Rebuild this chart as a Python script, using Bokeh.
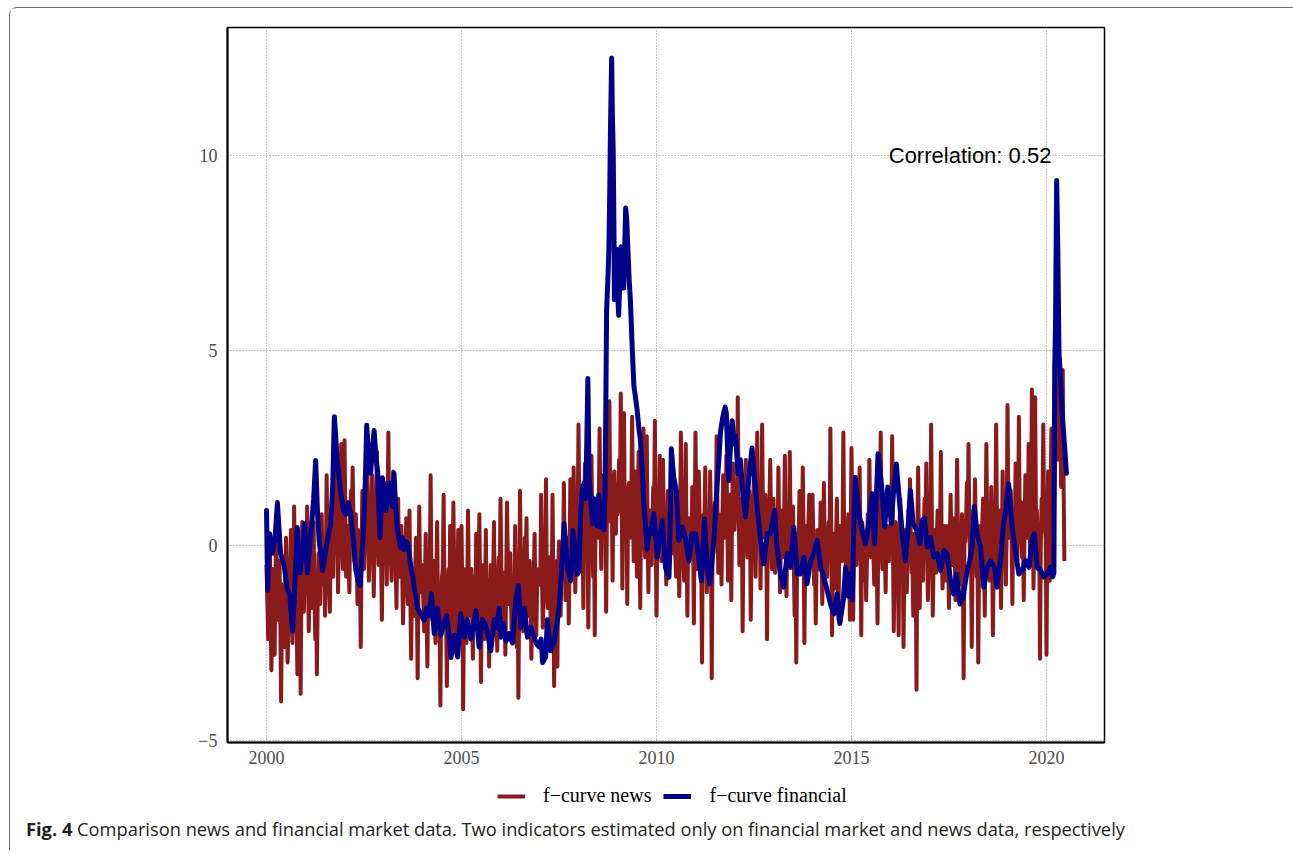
from bokeh.plotting import figure
from bokeh.models import Range1d, FixedTicker, Label, Legend, LegendItem, Div
from bokeh.layouts import column
from bokeh.embed import file_html
from bokeh.resources import INLINE

# ---------------- data ----------------
x_ticks = [2000, 2005, 2010, 2015, 2020]
y_ticks = [-5, 0, 5, 10]
y_tick_labels = {-5: "\u22125", 0: "0", 5: "5", 10: "10"}
correlation_text = "Correlation: 0.52"
series_labels = ["f\u2212curve news", "f\u2212curve financial"]
caption_bold = "Fig. 4"
caption_text = ("Comparison news and financial market data. Two indicators estimated only "
                "on financial market and news data, respectively")

fin_years = [
    2000.00, 2000.03, 2000.08, 2000.15, 2000.22, 2000.28, 2000.36, 2000.45, 2000.53, 2000.60,
    2000.67, 2000.73, 2000.79, 2000.86, 2000.94, 2000.98, 2001.05, 2001.15, 2001.21, 2001.26,
    2001.31, 2001.35, 2001.44, 2001.56, 2001.65, 2001.70, 2001.74, 2001.78, 2001.82, 2001.91,
    2001.97, 2002.03, 2002.10, 2002.16, 2002.23, 2002.29, 2002.35, 2002.40, 2002.45, 2002.50,
    2002.54, 2002.57, 2002.62, 2002.67, 2002.72, 2002.76, 2002.81, 2002.85, 2002.88, 2002.91,
    2002.97, 2003.02, 2003.06, 2003.11, 2003.15, 2003.19, 2003.23, 2003.27, 2003.31, 2003.36,
    2003.44, 2003.49, 2003.53, 2003.58, 2003.62, 2003.66, 2003.70, 2003.75, 2003.79, 2003.83,
    2003.87, 2003.95, 2004.04, 2004.10, 2004.17, 2004.23, 2004.30, 2004.34, 2004.38, 2004.43,
    2004.47, 2004.55, 2004.62, 2004.68, 2004.73, 2004.82, 2004.90, 2004.98, 2005.07, 2005.15,
    2005.24, 2005.30, 2005.37, 2005.45, 2005.54, 2005.60, 2005.67, 2005.75, 2005.84, 2005.90,
    2005.97, 2006.01, 2006.08, 2006.14, 2006.22, 2006.31, 2006.39, 2006.46, 2006.52, 2006.61,
    2006.69, 2006.78, 2006.85, 2006.91, 2006.99, 2007.04, 2007.08, 2007.16, 2007.20, 2007.29,
    2007.38, 2007.46, 2007.51, 2007.55, 2007.59, 2007.63, 2007.68, 2007.72, 2007.80, 2007.86,
    2007.93, 2007.97, 2008.01, 2008.06, 2008.09, 2008.14, 2008.18, 2008.21, 2008.24, 2008.27,
    2008.31, 2008.36, 2008.40, 2008.44, 2008.48, 2008.52, 2008.56, 2008.61, 2008.65, 2008.68,
    2008.70, 2008.72, 2008.76, 2008.78, 2008.80, 2008.82, 2008.85, 2008.87, 2008.89, 2008.91,
    2008.92, 2008.95, 2008.97, 2009.00, 2009.03, 2009.06, 2009.09, 2009.12, 2009.16, 2009.18,
    2009.21, 2009.24, 2009.26, 2009.30, 2009.33, 2009.38, 2009.42, 2009.46, 2009.50, 2009.55,
    2009.59, 2009.63, 2009.67, 2009.72, 2009.76, 2009.81, 2009.85, 2009.93, 2010.02, 2010.08,
    2010.15, 2010.23, 2010.32, 2010.35, 2010.38, 2010.44, 2010.51, 2010.57, 2010.66, 2010.74,
    2010.83, 2010.91, 2011.00, 2011.09, 2011.15, 2011.23, 2011.30, 2011.37, 2011.47, 2011.56,
    2011.60, 2011.64, 2011.70, 2011.76, 2011.79, 2011.85, 2011.90, 2011.94, 2012.00, 2012.03,
    2012.09, 2012.15, 2012.20, 2012.28, 2012.37, 2012.45, 2012.54, 2012.60, 2012.67, 2012.75,
    2012.84, 2012.92, 2013.03, 2013.09, 2013.18, 2013.26, 2013.35, 2013.44, 2013.52, 2013.61,
    2013.69, 2013.78, 2013.86, 2013.95, 2014.03, 2014.12, 2014.21, 2014.29, 2014.38, 2014.46,
    2014.55, 2014.63, 2014.70, 2014.79, 2014.85, 2014.93, 2014.97, 2015.02, 2015.06, 2015.10,
    2015.19, 2015.27, 2015.36, 2015.44, 2015.53, 2015.59, 2015.68, 2015.76, 2015.85, 2015.93,
    2016.02, 2016.08, 2016.15, 2016.24, 2016.32, 2016.38, 2016.44, 2016.51, 2016.58, 2016.67,
    2016.75, 2016.81, 2016.87, 2016.94, 2017.03, 2017.11, 2017.20, 2017.28, 2017.37, 2017.45,
    2017.54, 2017.62, 2017.69, 2017.78, 2017.86, 2017.95, 2018.03, 2018.09, 2018.15, 2018.22,
    2018.31, 2018.39, 2018.48, 2018.56, 2018.67, 2018.73, 2018.82, 2018.89, 2018.97, 2019.03,
    2019.12, 2019.20, 2019.29, 2019.38, 2019.46, 2019.55, 2019.63, 2019.69, 2019.76, 2019.85,
    2019.93, 2020.02, 2020.10, 2020.16, 2020.19, 2020.21, 2020.23, 2020.26, 2020.29, 2020.32,
    2020.36, 2020.40, 2020.46, 2020.51,
]
fin_values = [
    0.90, -1.15, 0.30, -0.20, 0.20, 1.10, -0.20, -0.50, -1.10, -1.30,
    -2.20, -0.90, 0.46, -0.70, 0.00, 0.56, -0.70, 0.46, 1.20, 2.18,
    0.80, 0.13, -0.64, 0.13, 0.56, 1.60, 3.30, 2.70, 2.10, 1.33,
    0.90, 0.80, 1.10, 0.80, 0.10, -0.64, -0.90, -1.03, -0.20, 0.64,
    1.90, 3.08, 2.30, 1.85, 2.50, 2.95, 2.20, 1.90, 0.90, 0.20,
    1.74, 1.30, 0.90, 1.30, 1.60, 1.20, 1.00, 1.85, 1.00, 0.38,
    -0.05, 0.20, -0.10, 0.10, 0.05, -0.20, -0.56, -0.80, -1.08, -1.30,
    -1.60, -1.75, -1.92, -1.60, -1.80, -1.24, -2.26, -1.90, -1.60, -2.00,
    -2.30, -2.00, -1.80, -2.30, -2.87, -2.30, -2.86, -1.75, -2.35, -1.90,
    -2.40, -2.10, -1.67, -2.60, -1.90, -2.00, -2.26, -2.70, -1.90, -2.10,
    -1.60, -2.35, -2.00, -2.45, -2.26, -2.50, -1.40, -1.03, -2.10, -1.60,
    -2.35, -2.10, -2.30, -2.50, -2.60, -2.40, -3.00, -2.85, -1.90, -2.70,
    -2.45, -1.90, -1.50, -0.90, -0.20, 0.56, -0.10, -0.60, -0.90, 0.38,
    -0.20, -0.73, -0.67, 0.90, 1.38, 1.60, 1.20, 2.50, 4.28, 1.80,
    1.18, 0.56, 1.20, 0.90, 0.50, 1.30, 0.47, 0.90, 0.40, 1.40,
    3.50, 6.00, 7.00, 7.65, 9.00, 10.70, 12.50, 11.00, 10.10, 8.00,
    6.30, 7.30, 7.60, 6.50, 5.90, 6.80, 7.66, 6.90, 6.60, 7.50,
    8.65, 8.30, 7.75, 6.80, 6.30, 5.00, 4.10, 3.80, 3.50, 3.00,
    2.66, 2.00, 1.18, 0.50, -0.10, 0.40, 0.30, 0.82, -0.30, 0.20,
    0.64, -0.56, -0.81, 0.60, 2.48, 1.75, 1.41, 0.13, 0.47, 0.20,
    -0.40, 0.30, 0.30, -0.40, -0.90, 0.68, -0.56, -0.98, 0.13, 1.66,
    2.20, 2.90, 3.30, 3.55, 3.40, 1.66, 2.60, 3.20, 2.60, 2.80,
    1.84, 2.20, 1.50, 0.73, 1.75, 2.50, 1.41, 0.82, 0.13, -0.47,
    0.30, 0.30, 0.90, -0.04, -0.73, -1.07, -0.21, -0.56, 0.47, -0.73,
    -0.73, -0.30, -0.98, -0.40, -0.20, 0.13, -0.56, -0.81, -1.16, -1.50,
    -1.75, -1.24, -2.00, -1.40, -0.56, -1.30, -0.73, -1.40, 0.50, 1.75,
    0.82, 0.38, 0.04, 0.56, 1.33, 0.04, 2.35, 1.66, 0.47, 1.50,
    0.56, 1.41, 2.09, 1.00, 0.13, -0.39, 0.30, 1.41, 0.56, 0.40,
    0.04, 0.64, 0.70, -0.04, 0.20, -0.30, -0.21, -0.64, -0.13, -0.21,
    -0.90, -1.24, -0.73, -1.50, -1.33, -0.73, -0.39, -0.04, 1.00, 0.30,
    -0.04, -1.07, -0.56, -0.39, -0.56, -1.07, -0.39, 0.47, 1.00, 1.58,
    0.47, -0.13, -0.73, -0.64, -0.39, -0.56, 0.13, 0.30, -0.56, -0.64,
    -0.81, -0.73, -0.56, -0.80, -0.70, 4.56, 5.55, 9.36, 7.60, 4.95,
    4.28, 3.40, 2.60, 1.85,
]

# news indicator: 48 readings per year (roughly weekly)
news_2000 = [-0.5, -1.4, -2.4, -0.9, 0.3, -1.6, -3.2, -1.1, -0.6, -1.7, -2.8, -0.8,
             0.5, -1.3, -1.9, -1.0, -0.4, -2.0, -4.0, -1.5, -1.0, -1.8, -2.6, -0.9,
             0.2, -1.4, -3.0, -2.0, -1.3, -0.7, 0.4, -1.2, -2.5, -1.1, 1.0, -0.6,
             -1.8, -1.5, -3.3, -1.9, -0.2, -1.2, -3.8, -1.0, 0.6, -1.6, -1.7, -0.8]
news_2001 = [-0.3, -1.1, 1.0, -0.4, -2.2, -1.0, -0.5, -0.9, -1.6, -0.2, 0.6, -1.2,
             -2.4, -0.8, -3.3, -1.4, -0.2, -0.6, -1.5, -0.3, 0.8, -1.0, -0.9, 0.1,
             -1.8, -0.7, 1.8, 0.2, -0.4, -0.9, -1.7, 0.0, 0.9, -0.3, -0.8, 0.5,
             0.3, -0.2, 2.5, 0.6, -1.2, 0.1, 0.5, 0.9, 2.6, 0.2, -0.6, 0.7]
news_2002 = [2.7, 0.9, -0.8, 0.1, 0.5, -0.2, -1.2, 0.6, 1.4, 0.3, 2.0, 0.8,
             -0.4, 0.2, 0.8, -0.3, -1.5, 0.4, 0.2, -0.5, -2.6, -0.1, 1.4, 0.7,
             -0.6, 0.3, 0.9, 1.1, 2.2, 0.5, -0.9, -0.2, 0.4, 1.0, 1.8, 0.6,
             -1.3, 0.0, 0.6, 1.2, 2.4, 0.4, -0.5, 0.7, 1.2, -0.2, -1.9, 0.3]
news_2003 = [0.2, 0.6, 1.6, 0.3, -1.0, 0.9, 2.9, 0.5, 0.4, -0.3, -0.9, 0.4,
             1.9, 0.7, -0.3, -0.5, -1.6, 0.2, 1.2, -0.2, -0.8, 0.1, 0.5, -0.6,
             -2.0, -0.9, -0.4, -0.3, 0.7, -1.0, -1.5, -0.4, 0.9, -1.2, -2.9, -0.8,
             -0.6, -1.4, -1.8, -0.6, 0.2, -1.1, -3.4, -1.3, 1.0, -0.7, -1.2, -1.0]
news_2004 = [-0.5, -1.4, -2.2, -0.8, 0.3, -1.6, -3.1, -1.2, -1.0, -0.5, 1.8, -0.9,
             -1.9, -1.3, -0.4, -1.7, -2.5, -1.0, 0.6, -1.5, -1.3, -2.0, -4.1, -1.2,
             -0.8, -0.6, 1.3, -1.4, -2.1, -1.8, -3.6, -1.1, -0.6, -1.6, 0.5, -0.9,
             -2.4, -1.3, 1.1, -0.7, -1.5, -2.0, -2.8, -1.0, 0.4, -1.5, -1.1, -1.8]
news_2005 = [0.5, -1.2, -4.2, -1.7, -1.2, -0.6, -2.5, -1.4, 0.9, -0.9, -1.8, -1.1,
             -0.6, -1.6, -2.9, -0.8, -1.4, -1.9, 0.3, -1.0, -2.2, -0.7, 0.8, -1.5,
             -3.5, -1.2, -1.0, -0.5, -2.4, -1.3, 0.4, -1.8, -1.6, -0.9, -3.1, -1.4,
             -0.5, -1.1, -2.0, -0.7, 0.6, -1.6, -1.3, -1.9, -2.7, -0.8, -0.3, -1.3]
news_2006 = [1.2, -0.6, -2.0, -1.3, -0.7, -1.6, -2.8, -0.9, 1.1, -0.4, -1.5, -1.1,
             -0.2, -1.5, -2.4, -0.8, -1.1, -1.7, 0.5, -1.2, -2.6, -0.9, -3.9, -1.4,
             1.4, -0.5, -1.3, -1.8, -2.2, -1.0, 0.2, -0.6, 0.7, -1.2, -1.8, -0.9,
             -0.4, -1.6, -2.9, -1.3, -1.0, -0.7, 0.3, -1.5, -2.3, -1.1, -0.8, -0.6]
news_2007 = [-0.6, -1.0, 1.3, -0.7, -2.1, -1.3, -0.9, -0.5, 1.7, -0.9, -1.6, -1.1,
             -0.3, -0.6, -2.5, -1.2, 1.3, -0.8, -3.6, -1.4, -1.2, -0.4, -3.1, -0.9,
             0.1, -0.7, -1.8, -0.3, -0.5, -0.8, 1.6, -0.2, -1.4, -0.6, 0.2, 0.1,
             -2.0, -0.4, 1.7, 0.3, -0.6, -0.1, 2.0, 0.5, -1.2, -0.3, 0.4, 0.6]
news_2008 = [3.1, 0.8, -0.5, 0.4, 1.2, 0.2, -1.6, 0.9, 2.1, 0.5, 0.3, 1.1,
             -2.1, 0.1, 1.5, 0.7, 2.3, 0.3, -0.8, 0.6, -2.3, 1.0, 1.0, 0.4,
             0.2, 1.2, 3.0, 0.8, -0.6, 1.4, 1.8, 0.5, 0.4, 1.1, -1.7, 0.7,
             2.4, 1.5, 3.7, 1.2, 0.6, 0.9, -0.9, 1.6, 1.9, 0.8, 0.3, 1.3]
news_2009 = [0.8, 1.4, 2.2, 0.9, 3.9, 1.7, -1.1, 1.2, 3.4, 0.6, 0.5, 1.5,
             -1.5, 1.0, 1.6, 0.4, 0.2, 1.3, 3.3, 0.8, -0.4, 1.1, 1.9, 0.5,
             -0.8, 0.9, 2.4, 0.3, -1.6, 1.0, 0.6, 0.6, 3.0, 0.2, -0.3, 0.9,
             2.8, 0.4, -1.2, 0.7, 0.9, 0.1, -0.5, 0.6, 1.5, 0.8, 3.2, 0.2]
news_2010 = [-1.8, 0.2, 1.2, 0.6, 2.3, 0.9, -0.4, 0.1, 2.2, 0.5, 0.8, -0.2,
             -1.0, 0.3, 1.4, 0.7, -0.6, 0.0, 0.9, 0.4, -0.2, 0.8, 1.6, -0.1,
             -0.8, 0.3, 0.5, 0.6, -1.3, 0.2, 2.9, 0.9, 0.3, -0.3, -0.9, 0.5,
             2.6, 0.1, -1.8, 0.4, 0.7, 0.7, -0.3, -0.1, 1.5, 0.3, -2.0, 0.6]
news_2011 = [2.9, 0.5, -0.6, 0.2, 1.9, 0.8, 0.4, -0.1, -3.0, 0.3, 0.8, 0.6,
             2.0, 0.1, -1.2, 0.4, 0.3, -0.2, 1.9, 0.7, -3.4, 0.2, -0.2, 0.9,
             1.1, 0.4, 2.8, 1.0, -0.7, 0.3, 0.5, 0.8, -1.0, 0.5, 1.8, 1.1,
             0.2, 0.6, 2.3, 0.9, -0.9, 0.4, 1.3, 1.2, -1.4, 0.7, 2.1, 0.5]
news_2012 = [0.4, 1.0, 1.6, 0.7, 3.8, 1.3, -0.5, 0.4, 1.2, 0.9, -2.2, 0.2,
             0.7, 1.1, 2.2, 0.6, -0.3, 0.3, 1.4, 0.8, -1.9, 0.1, 0.6, 1.2,
             1.8, 0.5, -0.8, 0.9, 2.9, 0.4, 0.1, 1.0, -1.1, 0.6, 3.1, 0.8,
             0.5, 0.2, 1.3, 0.7, -2.4, 0.3, 0.8, 1.1, 2.2, 0.5, -0.6, 0.4]
news_2013 = [1.2, 0.3, -0.7, 0.6, 0.4, -0.1, 2.0, 0.5, -1.2, 0.2, 0.9, -0.3,
             -0.2, 0.7, 2.3, 0.1, -1.3, 0.4, 0.6, -0.2, 2.4, 0.6, -0.5, 0.0,
             1.0, -0.4, -1.8, 0.3, -3.0, -0.5, 0.3, 0.2, 1.4, 0.5, -0.6, -0.1,
             2.0, 0.4, -2.5, -0.3, 0.5, 0.1, -0.9, 0.6, 1.3, -0.2, -0.2, 0.3]
news_2014 = [1.3, 0.2, -1.0, -0.3, -2.0, -0.6, 0.4, 0.1, -0.6, -0.2, 1.1, 0.4,
             -1.5, -0.5, 1.6, 0.0, 0.2, -0.4, -0.8, 0.3, 0.6, -0.1, 3.0, 0.5,
             -2.3, -0.6, 0.3, -0.2, -1.1, 0.2, 1.2, -0.4, -1.9, 0.1, 0.5, -0.3,
             -0.4, 0.4, 2.9, 0.0, 0.1, -0.5, -1.3, 0.2, 0.8, -0.2, -1.9, 0.3]
news_2015 = [2.5, 0.4, -1.9, -0.2, 0.6, 0.1, -0.5, 0.5, 1.0, -0.3, 2.0, 0.2,
             -2.3, 0.6, 0.4, -0.1, -0.9, 0.3, -1.4, -0.4, 0.8, 0.0, 2.2, 0.5,
             -0.3, 0.2, 1.1, -0.3, -1.0, 0.4, 0.2, -0.2, -2.0, 0.3, 0.9, 0.7,
             2.9, 0.0, -0.6, 0.4, 1.3, -0.2, -1.2, 0.3, 0.5, 0.1, -0.4, 0.5]
news_2016 = [0.3, 0.6, 2.8, 0.1, -2.2, -0.3, 0.6, 0.2, -0.8, -0.5, -2.3, 0.4,
             1.2, -0.1, -0.5, 0.3, -2.6, -0.6, 0.4, 0.0, -1.2, -0.2, 0.9, 0.5,
             1.7, 0.1, -0.7, -0.4, -1.8, 0.3, 0.2, -0.3, -3.7, 0.2, 2.0, -0.1,
             -1.6, 0.4, 0.5, -0.2, -0.9, 0.5, 1.2, 0.0, 2.1, 0.3, -1.4, -0.3]
news_2017 = [1.0, 0.2, 3.1, 0.5, -1.8, -0.4, 0.4, 0.1, -0.7, 0.3, 0.9, -0.2,
             -0.3, 0.4, 2.4, 0.0, -1.1, -0.3, 0.5, 0.2, -0.9, 0.5, 0.2, -0.4,
             -1.6, 0.1, 1.3, -0.2, -0.5, 0.3, 0.7, -0.1, -1.4, 0.4, 2.2, 0.0,
             0.3, -0.3, -1.0, 0.2, 0.8, -0.5, -3.4, 0.1, 0.1, 0.6, 1.6, 0.3]
news_2018 = [2.6, 0.5, -0.4, 0.1, -2.6, -0.3, 0.9, 0.4, 1.7, 0.2, -0.8, -0.2,
             -3.0, -0.4, 0.5, 0.3, -0.3, 0.6, 1.2, -0.1, -1.8, 0.2, 2.6, 0.5,
             0.4, -0.2, -0.9, 0.3, 1.5, 0.0, -2.3, -0.3, 0.2, 0.4, 3.1, 0.6,
             -0.6, 0.1, 0.9, 0.3, -1.6, -0.1, 1.9, 0.5, 0.3, 0.2, -1.0, 0.4]
news_2019 = [3.6, 1.0, 0.2, 0.6, 1.4, 0.3, -1.5, 0.8, 0.8, 0.4, 2.1, 0.9,
             -0.4, 0.2, 3.3, 0.7, 0.6, 1.1, -0.3, 0.3, -1.4, 0.5, 1.8, 0.9,
             0.5, 0.2, 2.6, 0.8, -0.5, 0.4, 4.0, 1.2, -1.1, 0.6, 3.8, 0.9,
             0.9, 0.3, -0.6, 0.5, -2.9, 0.1, 1.2, 0.8, 3.1, 0.6, 0.4, 0.2]
news_2020 = [-2.8, 0.5, 1.9, 0.3, -0.9, 1.0, 3.0, 0.8, 0.2, 0.6, 1.8, 2.5,
             5.2, 3.6, 2.2, 3.0, 4.8, 3.4, 1.5, 2.8, 4.5, 1.6, -0.4]

news_by_year = {
    2000: news_2000, 2001: news_2001, 2002: news_2002, 2003: news_2003,
    2004: news_2004, 2005: news_2005, 2006: news_2006, 2007: news_2007,
    2008: news_2008, 2009: news_2009, 2010: news_2010, 2011: news_2011,
    2012: news_2012, 2013: news_2013, 2014: news_2014, 2015: news_2015,
    2016: news_2016, 2017: news_2017, 2018: news_2018, 2019: news_2019,
    2020: news_2020,
}
news_x, news_y = [], []
for yr, vals in news_by_year.items():
    for k, v in enumerate(vals):
        news_x.append(yr + k / 48.0)
        news_y.append(v)

# ---------------- styles ----------------
RED = "#8B1A1A"
BLUE = "#00008B"
RED_W = 4
BLUE_W = 5
FIG_W = 1283
NAN = float("nan")

# ---------------- main chart ----------------
p = figure(
    frame_width=877, frame_height=715,
    output_backend="svg", toolbar_location=None,
    x_range=Range1d(1999.0, 2021.487), y_range=Range1d(-5.05, 13.28),
    min_border_left=217, min_border_right=189, min_border_top=19, min_border_bottom=40,
    background_fill_color="white", border_fill_color="white",
)

p.line(news_x, news_y, line_color=RED, line_width=RED_W, line_join="round")
p.line(fin_years, fin_values, line_color=BLUE, line_width=BLUE_W,
       line_join="round", line_cap="round")

p.xaxis.ticker = FixedTicker(ticks=x_ticks)
p.yaxis.ticker = FixedTicker(ticks=y_ticks)
p.yaxis.major_label_overrides = y_tick_labels

for ax in (p.xaxis, p.yaxis):
    ax.axis_line_color = "black"
    ax.axis_line_width = 2
    ax.major_tick_line_color = None
    ax.minor_tick_line_color = None
    ax.major_tick_out = 0
    ax.major_tick_in = 0
    ax.minor_tick_out = 0
    ax.minor_tick_in = 0
    ax.major_label_text_font = "Liberation Serif"
    ax.major_label_text_font_size = "18px"
    ax.major_label_text_color = "#4d4d4d"
p.xaxis.major_label_standoff = 8
p.yaxis.major_label_standoff = 10

p.grid.grid_line_color = "#8c8c8c"
p.grid.grid_line_dash = "1 2"
p.grid.grid_line_width = 1

p.outline_line_color = "black"
p.outline_line_width = 1.5
p.outline_line_alpha = 1

p.add_layout(Label(x=2018.04, y=10.0, text=correlation_text, text_align="center",
                   text_baseline="alphabetic", text_font="Liberation Sans",
                   text_font_size="22px", text_color="black"))

# ---------------- legend strip (own small figure, frame aligned with chart) ----------------
lg = figure(
    width=FIG_W, height=32, output_backend="svg", toolbar_location=None,
    x_range=Range1d(0, 1), y_range=Range1d(0, 1),
    x_axis_type=None, y_axis_type=None, min_border=0,
    background_fill_color="white", border_fill_color="white",
)
lg.grid.visible = False
lg.outline_line_color = None
k_news = lg.line([NAN], [NAN], line_color=RED, line_width=RED_W)
k_fin = lg.line([NAN], [NAN], line_color=BLUE, line_width=BLUE_W)
legend = Legend(
    items=[LegendItem(label=series_labels[0], renderers=[k_news]),
           LegendItem(label=series_labels[1], renderers=[k_fin])],
    orientation="horizontal", location=(270, 7),
    label_text_font="Liberation Serif", label_text_font_size="20px",
    label_text_color="black",
    glyph_width=28, glyph_height=20, label_height=20,
    label_standoff=18, spacing=12, padding=0, margin=0,
    border_line_color=None, background_fill_alpha=0,
)
lg.add_layout(legend)

# ---------------- caption ----------------
caption = Div(
    text=("<div style=\"font-family:'Open Sans'; font-size:18.3px; color:#231f20; "
          "white-space:nowrap; padding-left:11px; padding-top:0px; line-height:20px;\">"
          "<b>" + caption_bold + "</b> " + caption_text + "</div>"),
    width=FIG_W, height=26,
)

root = column(
    p, lg, caption, spacing=0,
    styles={"margin-left": "9px", "margin-top": "7px",
            "border-top": "1px solid #6e6e6e", "border-left": "1px solid #6e6e6e",
            "border-top-left-radius": "8px"},
)

open("out.html", "w").write(file_html(root, INLINE))
